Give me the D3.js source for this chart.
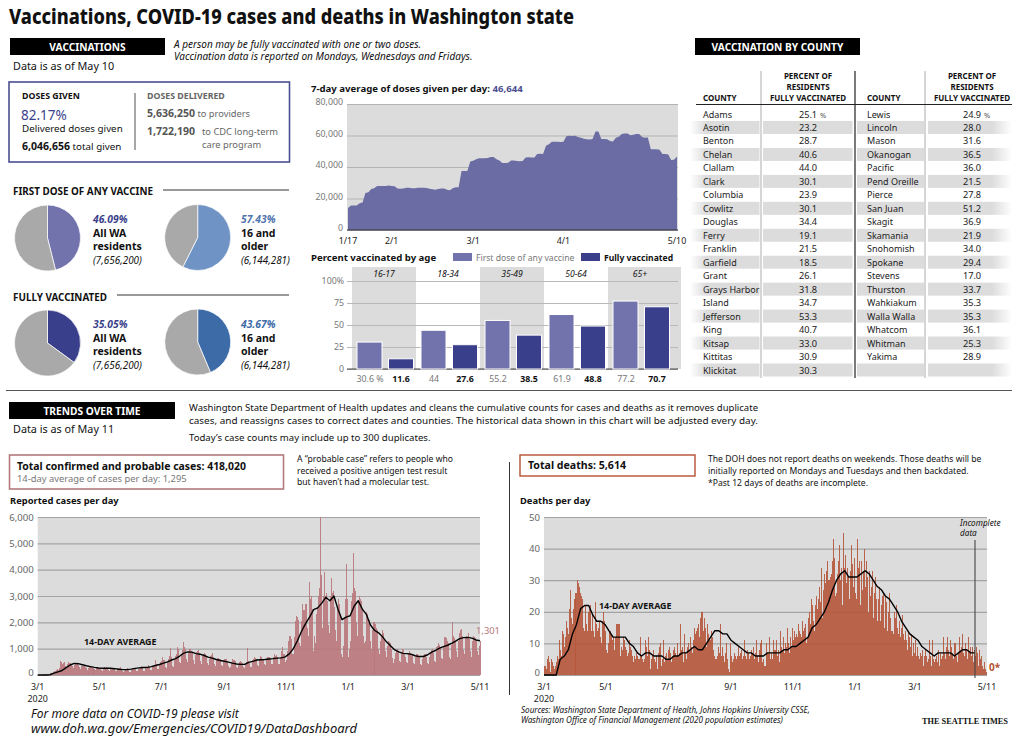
<!DOCTYPE html>
<html>
<head>
<meta charset="utf-8">
<script src="https://cdn.jsdelivr.net/npm/d3@7"></script>
<style>
  body { margin: 0; background: #fff; }
  svg { display: block; }
  text { font-family: "Noto Sans", Roboto, sans-serif; fill: #111; }
</style>
</head>
<body>
<script>
// doses per day, 7-day average, 1/17 to 5/10, one value a day (thousands)
var doses = [14,15.5,15.5,15.5,17,17.5,23.5,24,26,26.5,28,28,28,28,28.2,
  28,27.8,26.3,26.2,26.3,26.8,26.8,26.5,26.5,26.8,26.8,26.8,26.6,26.2,25.9,25.6,26,26.4,26.4,25.6,25.2,26.5,27.2,27.2,
  37.5,37.5,37.5,43.5,44,45,45.5,45.5,45.5,45.7,46.3,46.3,45,44.2,42.6,42.5,42.7,44.2,44.2,43.8,43.7,43.8,46,46.2,46,46,
  48.2,48.4,48.2,53.5,54.5,56,56,56,55.8,56,59.6,59.8,59.7,59.8,59,58.6,58,57.6,57.5,57.8,62.5,62.5,57.8,57.8,57.6,56.5,56.2,
  58.5,59.2,61,61.2,61.2,60.2,60.4,61,61,59,58.6,58.7,51.2,51.2,51.2,51,48.3,48.2,48,44.5,44.6,46.6];
var doseTicks = [0, 20000, 40000, 60000, 80000];

var ageGroups = ["16-17", "18-34", "35-49", "50-64", "65+"];
var ageFirst = [30.6, 44, 55.2, 61.9, 77.2];
var ageFull = [11.6, 27.6, 38.5, 48.8, 70.7];
var ageFirstLabels = ["30.6 %", "44", "55.2", "61.9", "77.2"];
var ageTicks = [0, 25, 50, 75, 100];

var pieValues = [46.09, 57.43, 35.05, 43.67];
var pieColors = ["#7273ad", "#6f93c4", "#3a3f8b", "#3c6ba8"];

var countiesA = ["Adams","Asotin","Benton","Chelan","Clallam","Clark","Columbia","Cowlitz","Douglas","Ferry","Franklin","Garfield","Grant","Grays Harbor","Island","Jefferson","King","Kitsap","Kittitas","Klickitat"];
var percentA = ["25.1","23.2","28.7","40.6","44.0","30.1","23.9","30.1","34.4","19.1","21.5","18.5","26.1","31.8","34.7","53.3","40.7","33.0","30.9","30.3"];
var countiesB = ["Lewis","Lincoln","Mason","Okanogan","Pacific","Pend Oreille","Pierce","San Juan","Skagit","Skamania","Snohomish","Spokane","Stevens","Thurston","Wahkiakum","Walla Walla","Whatcom","Whitman","Yakima",""];
var percentB = ["24.9","28.0","31.6","36.5","36.0","21.5","27.8","51.2","36.9","21.9","34.0","29.4","17.0","33.7","35.3","35.3","36.1","25.3","28.9",""];

// reported cases, one row per week, starting Sunday 3/1/2020
var cases = [
  5,8,10,12,15,20,15,
  20,30,40,50,55,70,60,
  90,120,150,170,190,210,180,
  250,520,500,420,470,480,350,
  300,420,480,450,460,430,330,
  280,380,420,400,410,380,290,
  240,330,360,340,330,320,250,
  200,280,300,290,300,270,210,
  180,250,290,270,280,250,190,
  170,250,290,280,300,260,180,
  160,230,260,270,280,240,170,
  150,210,270,260,290,240,160,
  130,160,220,230,250,210,130,
  130,190,230,220,240,220,140,
  140,220,250,280,330,290,170,
  160,270,300,310,380,320,200,
  190,310,350,370,560,430,240,
  240,420,500,530,700,560,300,
  270,480,620,740,1040,680,350,
  320,560,720,780,1080,1000,500,
  460,800,950,1240,1050,1000,620,
  500,820,980,1000,920,880,560,
  430,760,860,900,950,830,520,
  420,720,800,820,810,700,470,
  380,620,720,760,820,680,420,
  360,560,640,650,620,600,380,
  340,520,600,600,590,550,340,
  250,300,480,620,560,540,320,
  280,420,480,520,500,460,300,
  280,430,480,1010,520,450,320,
  320,560,620,700,640,600,380,
  350,600,720,680,600,620,400,
  380,600,680,700,680,640,400,
  400,680,800,720,760,700,430,
  420,700,900,1050,800,780,500,
  560,900,1300,1500,1480,1350,800,
  800,1450,2050,2250,2200,2100,1200,
  1100,2050,2700,2450,2680,2700,1800,
  1500,3550,2900,3000,2500,900,1500,
  1200,2300,2600,3000,3300,6000,3800,
  1800,3000,3900,3000,3100,2800,1900,
  1600,3000,3670,3100,3200,2600,1700,
  1300,2500,2900,2700,2300,800,700,
  1100,2200,2900,4200,2900,700,1000,
  1300,2800,3100,4620,3300,3200,2000,
  1500,2800,3000,2900,2800,2500,1500,
  1200,1300,2400,2300,2000,2100,1300,
  1000,1700,2000,1950,1800,1700,1000,
  800,1300,1500,1700,1600,1350,900,
  700,1100,1300,1250,1200,1000,650,
  450,600,850,950,1000,900,550,
  500,800,1000,950,850,700,500,
  450,800,900,850,800,750,450,
  400,700,800,800,750,700,400,
  380,600,750,780,800,700,450,
  420,700,850,950,1000,850,550,
  500,1050,1100,1200,1150,1050,650,
  600,1100,1450,1400,1300,1200,700,
  620,1150,2000,1500,1400,1300,900,
  700,1300,1600,1700,1750,1500,950,
  800,1400,1500,1450,1600,1350,900,
  700,1300,1500,1450,1400,1300,900,
  750,1100,1301];

// 14-day average of cases, one value every 4 days
var casesAvg = [0,0,0,10,70,120,170,280,380,440,430,390,350,320,290,265,255,260,255,240,220,205,205,225,250,270,285,290,
  320,360,400,450,500,570,620,720,830,880,870,810,790,740,680,640,590,550,520,490,450,420,410,405,480,520,570,580,
  590,610,620,640,650,690,800,1000,1300,1650,1950,2200,2480,2550,2730,2950,2820,3000,2500,2100,2200,2250,2620,2820,
  2500,2300,1900,1700,1600,1450,1250,1100,950,880,820,810,790,730,700,700,760,860,930,1020,1080,1130,1200,1290,1380,
  1420,1430,1400,1330,1301];

// deaths, one row per week, starting Sunday 3/1/2020
var deaths = [
  3,3,2,5,6,4,1,
  5,4,3,2,3,4,6,
  5,11,8,6,14,13,9,
  12,17,15,13,21,27,18,
  16,21,24,26,30,29,28,
  26,25,24,15,14,22,16,
  14,20,21,22,14,19,14,
  12,23,16,14,15,17,12,
  10,17,20,17,14,8,7,
  10,14,14,13,11,12,8,
  12,16,16,16,16,6,9,
  8,12,11,9,8,6,7,
  11,9,8,6,4,6,5,
  7,6,5,12,6,5,4,
  5,11,9,6,12,8,2,
  5,6,8,5,4,6,2,
  7,9,10,3,5,11,4,
  6,7,5,8,9,7,4,
  6,8,9,7,6,10,6,
  7,16,8,9,4,13,7,
  5,9,10,8,12,9,7,
  11,15,13,14,15,16,12,
  18,20,14,18,15,9,16,
  13,11,11,14,12,8,6,
  5,5,6,9,7,16,6,
  9,6,4,7,10,5,2,
  1,10,6,4,5,7,6,
  5,6,9,6,7,8,5,
  6,11,6,5,8,7,5,
  6,8,7,9,5,7,11,
  6,4,8,10,11,4,5,
  3,10,7,7,12,5,7,
  5,11,8,8,11,6,8,
  4,14,9,8,12,7,10,
  9,15,10,7,12,9,15,
  11,14,12,13,12,16,14,
  13,12,17,14,15,16,10,
  12,18,20,16,24,22,17,
  14,22,25,21,24,28,23,
  34,18,27,32,29,33,36,
  30,31,32,36,43,37,25,
  26,32,36,41,30,34,22,
  45,34,38,29,34,31,24,
  33,41,35,28,37,26,24,
  43,34,36,22,36,27,33,
  40,28,36,31,20,33,25,
  28,33,18,26,31,24,17,
  24,28,17,22,25,26,15,
  25,23,14,20,26,18,14,
  13,20,18,22,15,13,17,
  12,15,19,13,11,14,11,
  8,14,12,9,13,6,10,
  7,11,6,9,6,5,7,
  6,8,3,6,8,6,4,
  5,11,6,3,11,5,4,
  5,6,4,8,3,7,5,
  6,12,7,5,9,12,8,
  6,11,9,7,5,10,6,
  4,7,12,8,9,13,7,
  6,10,8,5,12,7,9,
  6,9,4,8,6,9,7,
  3,8,5,6,3,2,4,
  2,1,0];

// 14-day average of deaths, one value every 4 days, stops at the incomplete line
var deathsAvg = [0,0,0,0,5,6,8,13,16,21,22,22,19,17,17,16,14,12,12,12,12,10,9,7,6,7,7,6,6,6,5,5,6,6,7,7,8,9,8,8,10,12,14,14,13,13,
  11,10,9,8,7,7,6,6,6,7,7,7,7,8,8,9,9,10,11,12,15,16,18,20,23,27,30,32,33,31,31,31,32,33,32,30,28,27,25,24,22,20,17,15,13,12,11,9,8,7,6,7,7,7,7,6,7,8,8,7,7];

var caseTicks = [0, 1000, 2000, 3000, 4000, 5000, 6000];
var deathTicks = [0, 10, 20, 30, 40, 50];
var trendDates = [[2020,2,1],[2020,4,1],[2020,6,1],[2020,8,1],[2020,10,1],[2021,0,1],[2021,2,1],[2021,4,11]];

var svg = d3.select("body").append("svg").attr("width", 1020).attr("height", 741);

var defs = svg.append("defs");
function fade(id, c1, c2) {
  var g = defs.append("linearGradient").attr("id", id);
  g.append("stop").attr("offset", "0").attr("stop-color", c1);
  g.append("stop").attr("offset", "1").attr("stop-color", c2);
}
fade("fadeL", "#fff", "#dcdcdc");
fade("fadeR", "#dcdcdc", "#fff");

function label(x, y, str, o) {
  o = o || {};
  var t = svg.append("text").attr("x", x).attr("y", y).text(str)
    .attr("font-size", o.size || 10)
    .attr("font-weight", o.bold ? 700 : 400)
    .attr("font-style", o.italic ? "italic" : "normal")
    .attr("text-anchor", o.anchor || "start")
    .style("fill", o.color || "#111");
  if (o.w) t.attr("textLength", o.w).attr("lengthAdjust", "spacingAndGlyphs");
  return t;
}

// text with a second run in another weight or colour
function addRun(t, str, o) {
  t.append("tspan").text(str)
    .attr("font-size", o.size || null)
    .attr("font-weight", o.bold ? 700 : 400)
    .style("fill", o.color || "#111");
  return t;
}

function header(x, y, w, str) {
  svg.append("rect").attr("x", x).attr("y", y).attr("width", w).attr("height", 17).attr("fill", "#000");
  label(x + w / 2, y + 13, str, {size: 10.2, bold: true, anchor: "middle", color: "#fff"});
}

function rule(x1, y1, x2, y2, color, sw) {
  svg.append("line").attr("x1", x1).attr("y1", y1).attr("x2", x2).attr("y2", y2)
    .attr("stroke", color).attr("stroke-width", sw || 1);
}

function styleAxis(g, gridColor, textColor, size) {
  g.select(".domain").remove();
  g.selectAll(".tick line").attr("stroke", gridColor).attr("stroke-width", 1.2);
  g.selectAll(".tick text").attr("font-size", size).style("fill", textColor);
}

label(9, 24, "Vaccinations, COVID-19 cases and deaths in Washington state", {size: 20.5, bold: true, w: 565})
  .attr("font-weight", 800);

// ---- vaccinations, left column
header(10, 38, 155, "VACCINATIONS");
label(174, 48, "A person may be fully vaccinated with one or two doses.", {italic: true, size: 10});
label(174, 60, "Vaccination data is reported on Mondays, Wednesdays and Fridays.", {italic: true, size: 10});
label(13, 70, "Data is as of May 10", {size: 10.8});

svg.append("rect").attr("x", 9).attr("y", 82).attr("width", 280.5).attr("height", 80)
  .attr("fill", "none").attr("stroke", "#4a4f90").attr("stroke-width", 1.6);
label(22, 99, "DOSES GIVEN", {bold: true, size: 8.8});
label(21, 120, "82.17%", {size: 13.5, color: "#3a3f8b"});
label(22, 132, "Delivered doses given", {size: 9.8});
addRun(label(22, 150, "6,046,656", {bold: true, size: 10.5}), " total given", {size: 9.8});
rule(135, 93, 135, 150, "#777", 1.3);
label(147, 99, "DOSES DELIVERED", {bold: true, size: 8.8, color: "#666"});
addRun(label(147, 117, "5,636,250", {bold: true, size: 10.5, color: "#555"}), " to providers", {size: 9.3, color: "#666"});
label(147, 135, "1,722,190", {bold: true, size: 10.5, color: "#555"});
label(202, 135, "to CDC long-term", {size: 9.3, color: "#666"});
label(202, 148, "care program", {size: 9.3, color: "#666"});

label(13, 195, "FIRST DOSE OF ANY VACCINE", {bold: true, size: 9.9});
rule(163, 190, 289, 190, "#777", 1.4);
label(13, 301, "FULLY VACCINATED", {bold: true, size: 9.9});
rule(117, 295, 289, 295, "#777", 1.4);

var pie = d3.pie().sort(null);
var arc = d3.arc().innerRadius(0).outerRadius(33);
var pieSpots = [[47.5, 238], [197.7, 237.5], [47.5, 343], [197.7, 342]];
pieValues.forEach(function(v, i) {
  var g = svg.append("g").attr("transform", "translate(" + pieSpots[i][0] + "," + pieSpots[i][1] + ")");
  g.selectAll("path").data(pie([v, 100 - v])).enter().append("path")
    .attr("d", arc)
    .attr("fill", function(d, j) { return j == 0 ? pieColors[i] : "#a9a9a9"; })
    .attr("stroke", "#fff").attr("stroke-width", 0.7);
});

function pieText(x, y, pct, color, a, b, c) {
  label(x, y, pct, {italic: true, size: 10.3, color: color, bold: true});
  label(x, y + 13.5, a, {bold: true, size: 10.5});
  label(x, y + 27, b, {bold: true, size: 10.5});
  label(x, y + 40.5, c, {italic: true, size: 9.9});
}
pieText(93, 223, "46.09%", "#3a3f8b", "All WA", "residents", "(7,656,200)");
pieText(241, 223, "57.43%", "#4f74ae", "16 and", "older", "(6,144,281)");
pieText(93, 328, "35.05%", "#3a3f8b", "All  WA", "residents", "(7,656,200)");
pieText(241, 328, "43.67%", "#3c6ba8", "16 and", "older", "(6,144,281)");

// ---- doses area
addRun(label(311, 92, "7-day average of doses given per day: ", {bold: true, size: 9.6}), "46,644", {bold: true, color: "#4a4f90"});

var doseX = d3.scaleLinear().domain([0, doses.length - 1]).range([348, 677]);
var doseY = d3.scaleLinear().domain([0, 80000]).range([230, 104]);
svg.append("rect").attr("x", 347).attr("y", 104).attr("width", 331).attr("height", 126).attr("fill", "#dcdcdc");
svg.append("g").attr("transform", "translate(347,0)")
  .call(d3.axisLeft(doseY).tickValues(doseTicks).tickFormat(d3.format(",")).tickSize(-331).tickPadding(4))
  .call(styleAxis, "#b3b3b3", "#777", 8.8)
  .call(function(g) { g.selectAll(".tick text").attr("dy", "0.1em"); });
svg.append("path").datum(doses)
  .attr("fill", "#6a6ca3")
  .attr("d", d3.area().x(function(d, i) { return doseX(i); }).y0(doseY(0)).y1(function(d) { return doseY(d * 1000); }));
rule(347, 230, 678, 230, "#333", 1.2);
var doseLabels = ["1/17", "2/1", "3/1", "4/1", "5/10"];
var doseLabelDays = [0, 15, 43, 74, 113];
doseLabels.forEach(function(s, i) {
  label(doseX(doseLabelDays[i]), 243.5, s, {anchor: "middle", size: 8.8, color: "#222"});
});

// ---- age bars
label(311, 261, "Percent vaccinated by age", {bold: true, size: 9.6});
svg.append("rect").attr("x", 453).attr("y", 253).attr("width", 19).attr("height", 8).attr("fill", "#7273ad");
label(476, 261, "First dose of any vaccine", {size: 8.6, color: "#777"});
svg.append("rect").attr("x", 581).attr("y", 253).attr("width", 19).attr("height", 8).attr("fill", "#3a3f8b");
label(604, 261, "Fully vaccinated", {size: 8.6, bold: true});

var ageX = d3.scaleBand().domain(ageGroups).range([352, 672]);
var ageY = d3.scaleLinear().domain([0, 100]).range([369, 281]);
ageGroups.forEach(function(a, i) {
  if (i % 2 == 0) {
    svg.append("rect").attr("x", ageX(a)).attr("y", 267)
      .attr("width", i == 4 ? 73 : ageX.bandwidth()).attr("height", 102).attr("fill", "#dcdcdc");
  }
  label(ageX(a) + 32, 276.5, a, {italic: true, size: 8.6, anchor: "middle"});
});
svg.append("g").attr("transform", "translate(347,0)")
  .call(d3.axisLeft(ageY).tickValues(ageTicks).tickFormat(function(d) { return d == 100 ? "100%" : d; }).tickSize(-331).tickPadding(3))
  .call(styleAxis, "#b9b9b9", "#777", 8.8);
rule(347, 369, 678, 369, "#444", 1.2);
[ageFirst, ageFull].forEach(function(vals, k) {
  svg.append("g").selectAll("rect").data(vals).enter().append("rect")
    .attr("x", function(d, i) { return ageX(ageGroups[i]) + 5 + k * 31.5; })
    .attr("y", function(d) { return ageY(d); })
    .attr("width", 25).attr("height", function(d) { return ageY(0) - ageY(d); })
    .attr("fill", k == 0 ? "#7273ad" : "#3a3f8b")
    .attr("stroke", "#fff").attr("stroke-width", 1);
});
ageGroups.forEach(function(a, i) {
  label(ageX(a) + 18, 381.5, ageFirstLabels[i], {size: 8.8, anchor: "middle", color: "#777"});
  label(ageX(a) + 49, 381.5, ageFull[i], {size: 8.8, anchor: "middle", bold: true});
});

rule(6, 390.5, 1012, 390.5, "#555", 1.2);

// ---- county table
header(695, 38, 165, "VACCINATION BY COUNTY");
var rowY = d3.scaleLinear().domain([0, 19]).range([114, 370]);
d3.range(20).forEach(function(i) {
  if (i % 2 == 0) return;
  var y = rowY(i) - 6.5;
  svg.append("rect").attr("x", 690).attr("y", y).attr("width", 16).attr("height", 13).attr("fill", "url(#fadeL)");
  svg.append("rect").attr("x", 706).attr("y", y).attr("width", 53.5).attr("height", 13).attr("fill", "#dcdcdc");
  svg.append("rect").attr("x", 763).attr("y", y).attr("width", 89.5).attr("height", 13).attr("fill", "#dcdcdc");
  svg.append("rect").attr("x", 857).attr("y", y).attr("width", 67).attr("height", 13).attr("fill", "#dcdcdc");
  svg.append("rect").attr("x", 928).attr("y", y).attr("width", 64).attr("height", 13).attr("fill", "#dcdcdc");
  svg.append("rect").attr("x", 992).attr("y", y).attr("width", 20).attr("height", 13).attr("fill", "url(#fadeR)");
});
rule(761, 71, 761, 378, "#bbb", 1.2);
rule(855, 71, 855, 378, "#222", 1.2);
rule(925, 71, 925, 378, "#bbb", 1.2);
rule(696, 104.5, 1012, 104.5, "#222", 1.2);

[[703, 808, countiesA, percentA], [867, 972, countiesB, percentB]].forEach(function(c) {
  label(c[0], 101, "COUNTY", {bold: true, size: 8});
  label(c[1], 79, "PERCENT OF", {bold: true, size: 8, anchor: "middle"});
  label(c[1], 90, "RESIDENTS", {bold: true, size: 8, anchor: "middle"});
  label(c[1], 101, "FULLY VACCINATED", {bold: true, size: 8, anchor: "middle"});
  c[2].forEach(function(name, i) {
    label(c[0], rowY(i) + 3.5, name, {size: 9, color: "#222"});
    label(c[1], rowY(i) + 3.5, c[3][i], {size: 9.2, anchor: "middle", color: "#222"});
  });
});
label(820, 117.5, "%", {size: 7.5, color: "#555"});
label(984, 117.5, "%", {size: 7.5, color: "#555"});

// ---- trends
header(9, 402, 166, "TRENDS OVER TIME");
label(13, 433, "Data is as of May 11", {size: 10.8});
label(189, 411, "Washington State Department of Health updates and cleans the cumulative counts for cases and deaths as it removes duplicate", {size: 9.6, w: 569});
label(189, 423.5, "cases, and reassigns cases to correct dates and counties. The historical data shown in this chart will be adjusted every day.", {size: 9.6, w: 569});
label(189, 441, "Today\u2019s case counts may include up to 300 duplicates.", {size: 9.6});

svg.append("rect").attr("x", 9.5).attr("y", 455).attr("width", 274).attr("height", 34)
  .attr("fill", "none").attr("stroke", "#b47a7e").attr("stroke-width", 1.6);
label(17, 470, "Total confirmed and probable cases: 418,020", {bold: true, size: 10.6, w: 229});
label(17, 482, "14-day average of cases per day: 1,295", {size: 9.4, color: "#777"});
label(297, 462, "A \u201Cprobable case\u201D refers to people who", {size: 8.6});
label(297, 473.5, "received a positive antigen test result", {size: 8.6});
label(297, 485, "but haven\u2019t had a molecular test.", {size: 8.6});
rule(509.5, 462, 509.5, 695, "#333", 1);

svg.append("rect").attr("x", 520).attr("y", 455).attr("width", 175).attr("height", 21)
  .attr("fill", "none").attr("stroke", "#b5502f").attr("stroke-width", 1.4);
label(528, 469, "Total deaths: 5,614", {bold: true, size: 10.6});
label(708, 462, "The DOH does not report deaths on weekends. Those deaths will be", {size: 8.6});
label(708, 473.5, "initially reported on Mondays and Tuesdays and then backdated.", {size: 8.6});
label(708, 486, "*Past 12 days of deaths are incomplete.", {size: 8.6});

label(10, 504, "Reported cases per day", {bold: true, size: 9.4});
label(520, 504, "Deaths per day", {bold: true, size: 9.4});

function trendChart(x0, x1, values, avg, maxY, ticks, barColor) {
  var start = new Date(2020, 2, 1), end = new Date(2021, 4, 11);
  var x = d3.scaleTime().domain([start, end]).range([x0, x1]);
  var y = d3.scaleLinear().domain([0, maxY]).range([675, 517]);
  svg.append("rect").attr("x", x0).attr("y", 517).attr("width", x1 - x0).attr("height", 158).attr("fill", "#dcdcdc");
  svg.append("g").attr("transform", "translate(" + x0 + ",0)")
    .call(d3.axisLeft(y).tickValues(ticks).tickFormat(d3.format(",")).tickSize(-(x1 - x0)).tickPadding(4))
    .call(styleAxis, "#a3a3a3", "#666", 9.6)
    .call(function(g) { g.selectAll(".tick text").filter(function(d) { return d == 0; }).attr("dy", "0.05em"); });
  svg.append("g").attr("shape-rendering", "crispEdges").attr("fill-opacity", 0.9)
    .selectAll("rect").data(values).enter().append("rect")
    .attr("x", function(d, i) { return x(d3.timeDay.offset(start, i)); })
    .attr("y", function(d) { return y(d); })
    .attr("width", 1.02)
    .attr("height", function(d) { return y(0) - y(d); })
    .attr("fill", barColor);
  var line = d3.line()
    .x(function(d, i) { return x(d3.timeDay.offset(start, i * 4)); })
    .y(function(d) { return y(d); });
  svg.append("path").datum(avg).attr("d", line).attr("fill", "none")
    .attr("stroke", "#000").attr("stroke-width", 1.4).attr("stroke-linejoin", "round");
  var fmt = d3.timeFormat("%-m/%-d");
  svg.append("g").selectAll("text").data(trendDates).enter().append("text")
    .attr("x", function(d) { return x(new Date(d[0], d[1], d[2])); })
    .attr("y", 690).attr("text-anchor", "middle").attr("font-size", 8.9)
    .style("fill", "#222")
    .text(function(d) { return fmt(new Date(d[0], d[1], d[2])); });
  label(x0, 701.5, "2020", {size: 8.9, anchor: "middle", color: "#222"});
  return x;
}

trendChart(37.7, 480, cases, casesAvg, 6000, caseTicks, "#b9777b");
trendChart(544, 987, deaths, deathsAvg, 50, deathTicks, "#b5563a");

label(84, 645, "14-DAY AVERAGE", {bold: true, size: 8.9});
label(599, 609, "14-DAY AVERAGE", {bold: true, size: 8.9});
label(476, 634, "1,301", {size: 9.4, color: "#b9777b"});
label(989, 671, "0*", {size: 10, color: "#b5502f", bold: true});

rule(975, 540, 975, 678, "#444", 1.1);
label(960, 526, "Incomplete", {italic: true, size: 8.2});
label(960, 536, "data", {italic: true, size: 8.2});

label(31, 718, "For more data on COVID-19 please visit", {italic: true, size: 12});
label(31, 733, "www.doh.wa.gov/Emergencies/COVID19/DataDashboard", {italic: true, size: 12, w: 326});
label(521, 713, "Sources: Washington State Department of Health, Johns Hopkins University CSSE,", {italic: true, size: 8.1});
label(521, 722.5, "Washington Office of Financial Management (2020 population estimates)", {italic: true, size: 8.1});
label(922, 723.5, "THE SEATTLE TIMES", {bold: true, size: 7.4, w: 86}).style("font-family", "Liberation Serif, serif");
</script>
</body>
</html>
